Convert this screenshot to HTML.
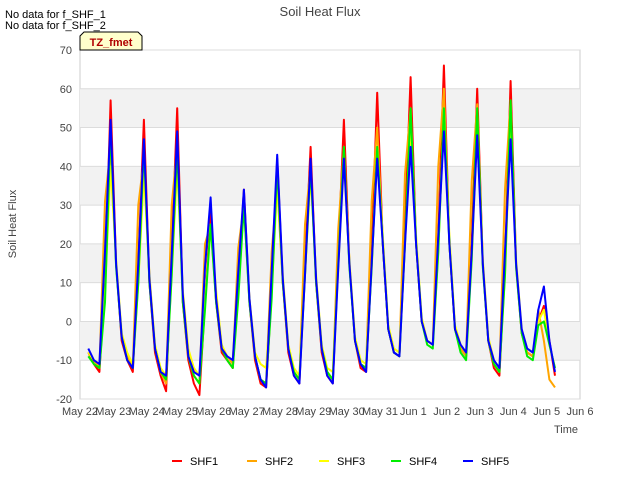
<!DOCTYPE html>
<html><head><meta charset="utf-8"><style>
body{margin:0;background:#fff;font-family:"Liberation Sans",sans-serif;}
svg text{font-family:"Liberation Sans",sans-serif;}
</style></head><body>
<svg id="chart" width="640" height="480">
<rect x="0" y="0" width="640" height="480" fill="#fff"/>
<g id="bands"></g>
<g id="grid"></g>
<g id="series"></g>
<g id="axes"></g>
<text x="320" y="16" text-anchor="middle" font-size="13" fill="#444">Soil Heat Flux</text>
<text x="5" y="18" font-size="11" fill="#000">No data for f_SHF_1</text>
<text x="5" y="29" font-size="11" fill="#000">No data for f_SHF_2</text>
<g>
<path d="M80,50 L80,36 L84,32 L138,32 L142,36 L142,50 Z" fill="#ffffcc" stroke="#000" stroke-width="1"/>
<text x="111" y="46" text-anchor="middle" font-size="11" font-weight="bold" fill="#b00000">TZ_fmet</text>
</g>
<text x="16" y="224" transform="rotate(-90 16 224)" text-anchor="middle" font-size="11" fill="#444">Soil Heat Flux</text>
<text x="566" y="433" text-anchor="middle" font-size="11" fill="#444">Time</text>
<g id="legend"></g>
</svg>
<script>
const yTicks=[-20,-10,0,10,20,30,40,50,60,70];
const xLabels=["May 22","May 23","May 24","May 25","May 26","May 27","May 28","May 29","May 30","May 31","Jun 1","Jun 2","Jun 3","Jun 4","Jun 5","Jun 6"];
const seriesNames=["SHF1","SHF2","SHF3","SHF4","SHF5"];
const seriesColors=["#ff0000","#ffa500","#ffff00","#00ee00","#0000ff"];
// samples every 4h starting May 22 06:00
const shf1=[-8,-11,-13,10,57, 15,-5,-10,-13,15,52, 10,-8,-14,-18,18,55, 5,-10,-16,-19,5,28, 5,-8,-10,-12,10,34, 5,-10,-16,-17,8,42, 10,-8,-14,-16,15,45, 10,-8,-14,-16,18,52, 15,-5,-12,-13,18,59, 20,-2,-8,-9,25,63, 20,0,-5,-6,22,66, 20,-2,-7,-9,20,60, 15,-5,-12,-14,15,62, 15,-3,-8,-9,0,4, -5,-14];
const shf2=[-8,-10,-12,31,45, 15,-4,-9,-12,30,42, 12,-7,-13,-16,30,45, 6,-9,-14,-16,20,25, 6,-7,-9,-11,19,30, 6,-9,-15,-16,18,35, 10,-7,-13,-15,25,40, 10,-7,-13,-15,24,45, 15,-5,-11,-12,31,50, 20,-2,-8,-9,38,55, 20,0,-5,-6,40,60, 20,-2,-7,-9,36,56, 15,-5,-11,-13,34,57, 14,-3,-8,-9,3,-5, -15,-17];
const shf3=[-8,-10,-11,8,40, 16,-3,-8,-11,10,38, 12,-6,-12,-14,12,40, 8,-7,-12,-14,5,25, 8,-6,-9,-10,8,30, 6,-8,-11,-12,8,35, 12,-6,-12,-14,12,38, 12,-6,-12,-13,14,42, 16,-4,-10,-11,14,45, 22,-1,-7,-8,20,50, 22,1,-5,-6,18,55, 22,-1,-6,-8,16,50, 16,-4,-10,-12,12,52, 16,-2,-7,-8,0,3, -6,-12];
const shf4=[-9,-11,-12,5,50, 14,-4,-10,-12,10,45, 10,-7,-13,-15,12,45, 5,-9,-14,-16,3,25, 5,-7,-10,-12,6,30, 5,-9,-15,-16,6,40, 10,-7,-13,-15,12,40, 10,-7,-13,-15,15,45, 14,-5,-11,-12,14,45, 20,-2,-8,-9,20,55, 20,0,-6,-7,18,55, 20,-2,-8,-10,16,55, 14,-5,-11,-13,12,57, 14,-3,-9,-10,-1,0, -6,-12];
const shf5=[-7,-10,-11,18,52, 15,-4,-10,-12,15,47, 11,-7,-13,-14,17,49, 7,-9,-13,-14,14,32, 6,-7,-9,-10,13,34, 6,-9,-15,-17,13,43, 11,-7,-14,-16,12,42, 11,-7,-14,-16,14,42, 15,-5,-11,-13,15,42, 20,-2,-8,-9,20,45, 20,0,-5,-6,22,49, 20,-2,-6,-8,18,48, 15,-5,-10,-12,18,47, 15,-2,-7,-8,3,9, -5,-13];
const seriesData=[shf1,shf2,shf3,shf4,shf5];

const X0=80,X1=580,Y0=399,Y1=50;
const yMin=-20,yMax=70,dMin=0,dMax=15;
const ys=v=>Y0-(v-yMin)/(yMax-yMin)*(Y0-Y1);
const xs=d=>X0+(d-dMin)/(dMax-dMin)*(X1-X0);
const NS="http://www.w3.org/2000/svg";
function mk(tag,attrs,parent){const e=document.createElementNS(NS,tag);for(const k in attrs)e.setAttribute(k,attrs[k]);parent.appendChild(e);return e;}
const bands=document.getElementById('bands'),grid=document.getElementById('grid'),axes=document.getElementById('axes'),ser=document.getElementById('series'),leg=document.getElementById('legend');
const bg=mk('rect',{x:X0,y:Y1,width:X1-X0,height:Y0-Y1,fill:'#fff',stroke:'#ccc'},bands);


for(let i=0;i<yTicks.length-1;i++){
  if(yTicks[i]===-10||yTicks[i]===10||yTicks[i]===30||yTicks[i]===50){
    const b=mk('rect',{x:X0,y:ys(yTicks[i+1]),width:X1-X0,height:ys(yTicks[i])-ys(yTicks[i+1]),fill:'#f2f2f2'},bands);
    
    
  }
}
yTicks.forEach(v=>{
  const l=mk('line',{x1:X0,x2:X1,y1:ys(v),y2:ys(v),stroke:'#dcdcdc','stroke-width':1},grid);
  
  
  const t=mk('text',{x:X0-8,y:ys(v)+4,'text-anchor':'end','font-size':11,fill:'#444'},axes);
  t.textContent=v;
  
  
});
xLabels.forEach((lab,i)=>{
  const t=mk('text',{x:xs(i),y:415,'text-anchor':'middle','font-size':11,fill:'#444'},axes);
  t.textContent=lab;
  
  
});
seriesData.forEach((arr,si)=>{
  const pts=arr.map((v,i)=>xs(0.25+i/6).toFixed(1)+','+ys(v).toFixed(1)).join(' ');
  const p=mk('polyline',{points:pts,fill:'none',stroke:seriesColors[si],'stroke-width':2,'stroke-linejoin':'round'},ser);
  
  
});
const legX=[172,247,319,391,463];
seriesNames.forEach((n,i)=>{
  const g=mk('g',{},leg);
  
  
  mk('line',{x1:legX[i],x2:legX[i]+10,y1:461,y2:461,stroke:seriesColors[i],'stroke-width':2},g);
  const t=mk('text',{x:legX[i]+18,y:465,'font-size':11,fill:'#000'},g);
  t.textContent=n;
});
</script>
</body></html>
